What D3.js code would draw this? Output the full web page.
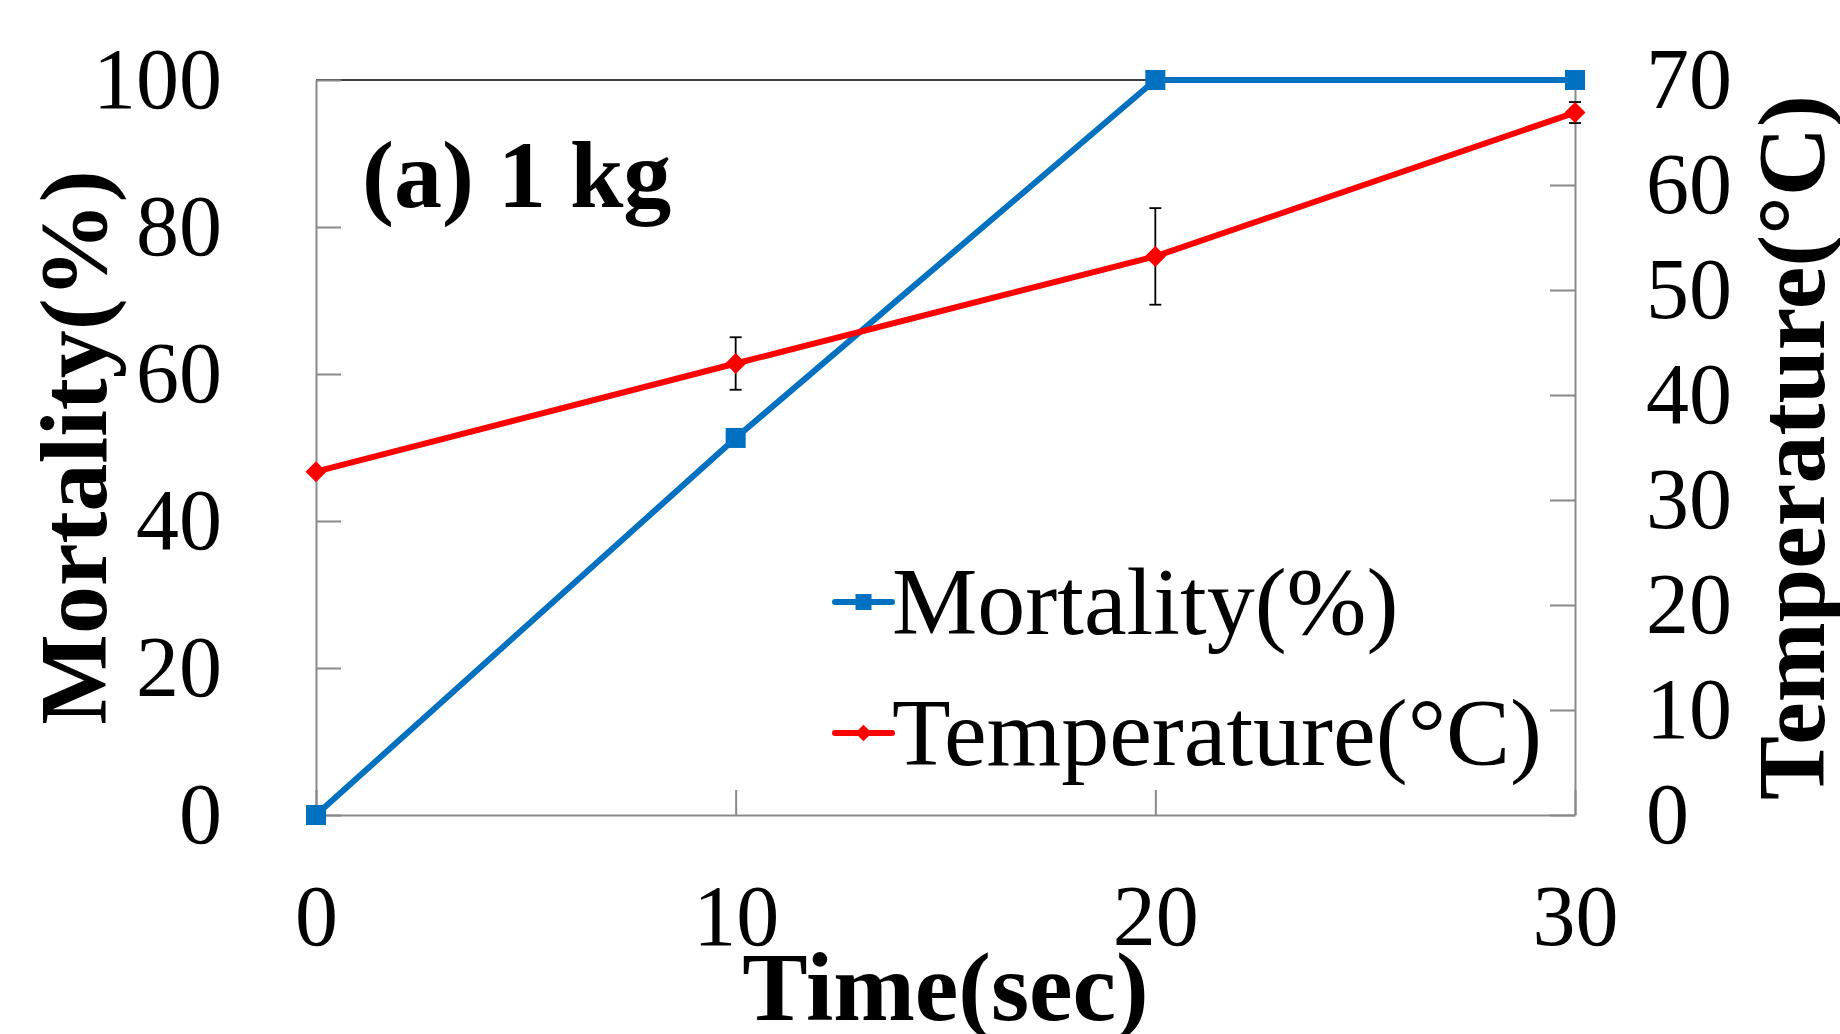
<!DOCTYPE html>
<html><head><meta charset="utf-8">
<script src="https://cdn.jsdelivr.net/npm/d3@7"></script>
<style>body{margin:0;background:#fff} svg{display:block}</style>
</head><body><svg id="chart" width="1840" height="1034"></svg>
<script>
const times = [0, 10, 20, 30];
const mortality = [0, 51.3, 100, 100];
const temperature = [32.7, 43.0, 53.2, 66.9];
const tempError = [0, 2.5, 4.6, 1.0];
const xTicks = [0, 10, 20, 30];
const yLeftTicks = [0, 20, 40, 60, 80, 100];
const yRightTicks = [0, 10, 20, 30, 40, 50, 60, 70];
const seriesNames = ["Mortality(%)", "Temperature(°C)"];
const panelLabel = "(a) 1 kg";
const xTitle = "Time(sec)";
const yLeftTitle = "Mortality(%)";
const yRightTitle = "Temperature(°C)";

const W = 1840, H = 1034;
const m = {left: 316, right: 1575, top: 80, bottom: 815};
const blue = "#0070C0", red = "#FF0000", axisGray = "#898989";
const font = "'Liberation Serif','Times New Roman',serif";

const svg = d3.select("#chart");
const x = d3.scaleLinear().domain([0, 30]).range([m.left, m.right]);
const yL = d3.scaleLinear().domain([0, 100]).range([m.bottom, m.top]);
const yR = d3.scaleLinear().domain([0, 70]).range([m.bottom, m.top]);

// top border
svg.append("line").attr("x1", m.left).attr("x2", m.right).attr("y1", m.top).attr("y2", m.top)
  .attr("stroke", "#000").attr("stroke-width", 1.5);

function styleAxis(g) {
  g.selectAll("path.domain").attr("stroke", axisGray).attr("stroke-width", 2);
  g.selectAll(".tick line").attr("stroke", axisGray).attr("stroke-width", 2);
  g.selectAll(".tick text").attr("font-family", font).attr("font-size", 86).attr("fill", "#000");
}

const gL = svg.append("g").attr("transform", `translate(${m.left},0)`)
  .call(d3.axisLeft(yL).tickValues(yLeftTicks).tickSizeInner(-25).tickSizeOuter(0).tickPadding(94));
styleAxis(gL);
const gR = svg.append("g").attr("transform", `translate(${m.right},0)`)
  .call(d3.axisRight(yR).tickValues(yRightTicks).tickSizeInner(-25).tickSizeOuter(0).tickPadding(71));
styleAxis(gR);
const gB = svg.append("g").attr("transform", `translate(0,${m.bottom})`)
  .call(d3.axisBottom(x).tickValues(xTicks).tickSizeInner(-25).tickSizeOuter(0).tickPadding(69));
styleAxis(gB);

// lines
const mData = times.map((t, i) => ({t, v: mortality[i]}));
const tData = times.map((t, i) => ({t, v: temperature[i], e: tempError[i]}));

svg.append("path").datum(mData)
  .attr("d", d3.line().x(d => x(d.t)).y(d => yL(d.v)))
  .attr("fill", "none").attr("stroke", blue).attr("stroke-width", 6).attr("stroke-linejoin", "round");
svg.selectAll("rect.mk").data(mData).join("rect").attr("class", "mk")
  .attr("x", d => x(d.t) - 10).attr("y", d => yL(d.v) - 10)
  .attr("width", 20).attr("height", 20).attr("fill", blue);

svg.append("path").datum(tData)
  .attr("d", d3.line().x(d => x(d.t)).y(d => yR(d.v)))
  .attr("fill", "none").attr("stroke", red).attr("stroke-width", 6).attr("stroke-linejoin", "round");

// error bars
const eb = svg.append("g").attr("stroke", "#000").attr("stroke-width", 1.8);
tData.filter(d => d.e > 0).forEach(d => {
  const cx = x(d.t);
  eb.append("line").attr("x1", cx).attr("x2", cx).attr("y1", yR(d.v + d.e)).attr("y2", yR(d.v - d.e));
  eb.append("line").attr("x1", cx - 6).attr("x2", cx + 6).attr("y1", yR(d.v + d.e)).attr("y2", yR(d.v + d.e));
  eb.append("line").attr("x1", cx - 6).attr("x2", cx + 6).attr("y1", yR(d.v - d.e)).attr("y2", yR(d.v - d.e));
});

const diamond = d3.symbol().type(d3.symbolSquare).size(220);
svg.selectAll("path.dm").data(tData).join("path").attr("class", "dm")
  .attr("d", diamond)
  .attr("transform", d => `translate(${x(d.t)},${yR(d.v)}) rotate(45)`)
  .attr("fill", red);

// panel label
svg.append("text").attr("x", 362).attr("y", 207).text(panelLabel)
  .attr("font-family", font).attr("font-weight", "bold").attr("font-size", 96);

// legend
const legY = [602, 733];
const legColors = [blue, red];
seriesNames.forEach((name, i) => {
  const g = svg.append("g");
  g.append("line").attr("x1", 835).attr("x2", 892).attr("y1", legY[i]).attr("y2", legY[i])
    .attr("stroke", legColors[i]).attr("stroke-width", 6).attr("stroke-linecap", "round");
  if (i === 0) {
    g.append("rect").attr("x", 863.5 - 8).attr("y", legY[i] - 8).attr("width", 16).attr("height", 16).attr("fill", blue);
  } else {
    g.append("path").attr("d", d3.symbol().type(d3.symbolSquare).size(140))
      .attr("transform", `translate(863.5,${legY[i]}) rotate(45)`).attr("fill", red);
  }
  g.append("text").attr("x", 892).attr("y", legY[i]).attr("dy", "0.33em").text(name)
    .attr("font-family", font).attr("font-size", 96);
});

// axis titles
svg.append("text").attr("x", (m.left + m.right) / 2).attr("y", 1020).attr("text-anchor", "middle")
  .text(xTitle).attr("font-family", font).attr("font-weight", "bold").attr("font-size", 98);
svg.append("text").attr("transform", `translate(106,${(m.top + m.bottom) / 2}) rotate(-90)`)
  .attr("text-anchor", "middle").text(yLeftTitle)
  .attr("font-family", font).attr("font-weight", "bold").attr("font-size", 96);
svg.append("text").attr("transform", `translate(1824,${(m.top + m.bottom) / 2}) rotate(-90)`)
  .attr("text-anchor", "middle").text(yRightTitle)
  .attr("font-family", font).attr("font-weight", "bold").attr("font-size", 96);
</script></body></html>
